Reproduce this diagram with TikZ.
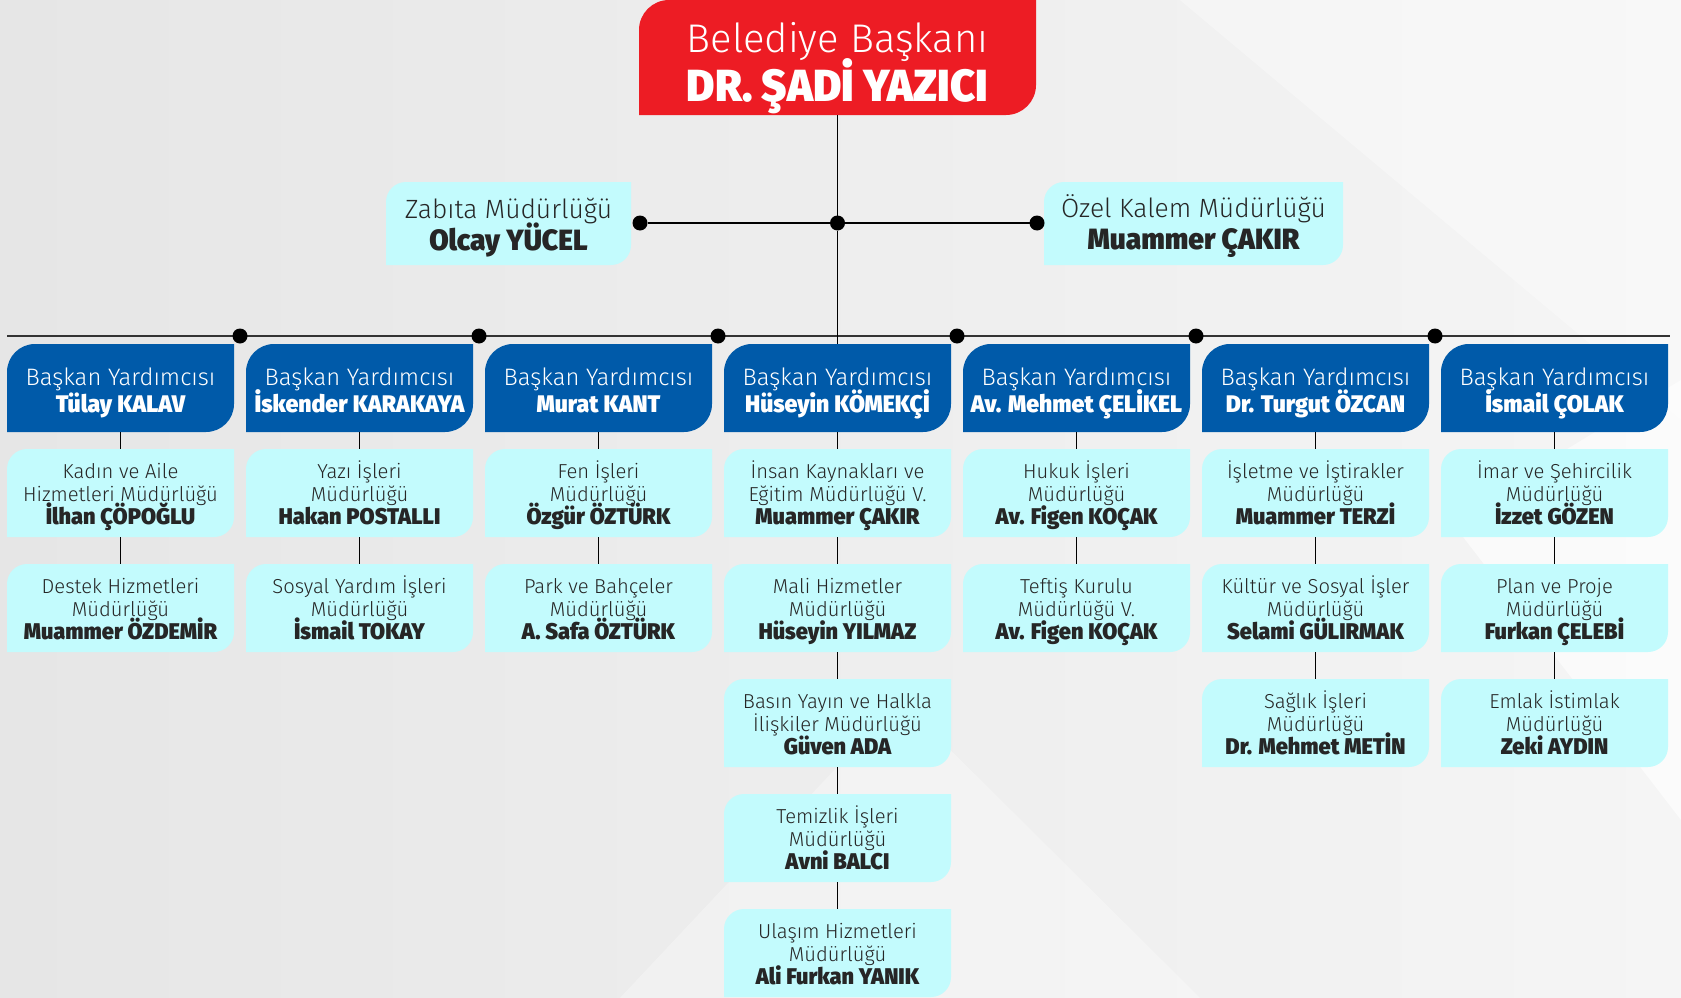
\documentclass[tikz,border=0pt]{standalone}
\usepackage{fontspec}
\usetikzlibrary{positioning,backgrounds,calc}
\setmainfont{Fira Sans}
\newfontfamily\lightfont{Fira Sans Light}
\IfFontExistsTF{Fira Sans Heavy}
  {\newfontfamily\heavyfont{Fira Sans Heavy}[FakeStretch=0.96]}
  {\IfFontExistsTF{Fira Sans Black}
    {\newfontfamily\heavyfont{Fira Sans Black}[FakeStretch=0.96]}
    {\IfFontExistsTF{Fira Sans Ultra}
      {\newfontfamily\heavyfont{Fira Sans Ultra}[FakeStretch=0.96]}
      {\newfontfamily\heavyfont{Fira Sans ExtraBold}[FakeStretch=0.96]}}}
\definecolor{mayorred}{HTML}{ED1C24}
\definecolor{vpblue}{HTML}{005AA9}
\definecolor{deptcyan}{HTML}{C3FBFD}
\definecolor{bggray}{HTML}{E6E6E6}
\definecolor{bglight}{HTML}{F5F5F5}
\pgfdeclarelayer{backdrop}
\pgfsetlayers{backdrop,background,main}
\lineskiplimit=-60pt\relax
% text of the boxes (struts fix the baselines)
\newcommand{\depttext}[2]{\rule{0pt}{22.5pt}#1\\{\heavyfont\fontsize{22.7}{23}\selectfont #2}\rule[-6.5pt]{0pt}{6.5pt}}
\newcommand{\vptext}[1]{\rule{0pt}{28pt}Başkan Yardımcısı\\{\heavyfont\fontsize{24}{27}\selectfont #1}\rule[-7pt]{0pt}{7pt}}
\newcommand{\sidetext}[2]{\rule{0pt}{29pt}#1\\{\heavyfont\fontsize{29.3}{32}\selectfont #2}\rule[-8pt]{0pt}{8pt}}
% box with rounded top-left and bottom-right corners
\newcommand{\cutcorners}[3]{%
  \fill[#2] ([yshift=-#3]#1.north west) arc[start angle=180, end angle=90, radius=#3]
    -- (#1.north east) -- ([yshift=#3]#1.south east)
    arc[start angle=0, end angle=-90, radius=#3] -- (#1.south west) -- cycle;}
\tikzset{
  every node/.style={outer sep=0pt, inner sep=0pt, align=center},
  mayorbox/.style={minimum width=397pt, minimum height=115pt, text=white,
    font=\lightfont\fontsize{40}{49}\selectfont},
  sidebox/.style={minimum height=83pt, text=black!85,
    font=\lightfont\fontsize{26.4}{32}\selectfont},
  vpbox/.style={minimum width=227pt, minimum height=88pt, text=white,
    font=\lightfont\fontsize{23.8}{27}\selectfont},
  deptbox/.style={minimum width=227pt, minimum height=88pt, text=black!85,
    font=\lightfont\fontsize{20.2}{23}\selectfont},
  link/.style={line width=1.3pt, black},
  busline/.style={line width=2pt, black!80},
  joint/.style={circle, fill=black, minimum size=15pt}
}
\begin{document}
\begin{tikzpicture}[x=1pt, y=1pt]
  \useasboundingbox (0,0) rectangle (1681,-998);
  % backdrop
  \begin{pgfonlayer}{backdrop}
    \shade[left color=bggray, right color=bglight] (0,0) rectangle (1681,-998);
    \fill[white, opacity=0.5] (330,0) -- (520,0) -- (860,560) -- (760,640) -- cycle;
    \fill[white, opacity=0.35] (1180,0) -- (1681,0) -- (1681,-420) -- cycle;
    \fill[white, opacity=0.6] (1681,-380) -- (1681,-820) -- (1450,-520) -- cycle;
    \fill[white, opacity=0.3] (620,-998) -- (900,-700) -- (1200,-998) -- cycle;
  \end{pgfonlayer}

  % mayor and direct offices
  \node[mayorbox] (mayor) at (837.5,-57.5)
    {\rule{0pt}{50.4pt}Belediye Başkanı\\{\heavyfont\fontsize{45}{49}\selectfont DR. ŞADİ YAZICI}\rule[-11pt]{0pt}{11pt}};
  \node[sidebox, minimum width=245pt] (zabita) at (508.5,-223.5)
    {\sidetext{Zabıta Müdürlüğü}{Olcay YÜCEL}};
  \node[sidebox, minimum width=299pt] (ozel) at (1193.5,-223.5)
    {\sidetext{Özel Kalem Müdürlüğü}{Muammer ÇAKIR}};

  % deputy mayors
  \node[vpbox] (vp1) at (120.5,-388) {\vptext{Tülay KALAV}};
  \node[vpbox] (vp2) at (359.5,-388) {\vptext{İskender KARAKAYA}};
  \node[vpbox] (vp3) at (598.5,-388) {\vptext{Murat KANT}};
  \node[vpbox] (vp4) at (837.5,-388) {\vptext{Hüseyin KÖMEKÇİ}};
  \node[vpbox] (vp5) at (1076.5,-388) {\vptext{Av. Mehmet ÇELİKEL}};
  \node[vpbox] (vp6) at (1315.5,-388) {\vptext{Dr. Turgut ÖZCAN}};
  \node[vpbox] (vp7) at (1554.5,-388) {\vptext{İsmail ÇOLAK}};

  % departments
  \node[deptbox, below=17pt of vp1] (d11) {\depttext{Kadın ve Aile\\Hizmetleri Müdürlüğü}{İlhan ÇÖPOĞLU}};
  \node[deptbox, below=27pt of d11] (d12) {\depttext{Destek Hizmetleri\\Müdürlüğü}{Muammer ÖZDEMİR}};

  \node[deptbox, below=17pt of vp2] (d21) {\depttext{Yazı İşleri\\Müdürlüğü}{Hakan POSTALLI}};
  \node[deptbox, below=27pt of d21] (d22) {\depttext{Sosyal Yardım İşleri\\Müdürlüğü}{İsmail TOKAY}};

  \node[deptbox, below=17pt of vp3] (d31) {\depttext{Fen İşleri\\Müdürlüğü}{Özgür ÖZTÜRK}};
  \node[deptbox, below=27pt of d31] (d32) {\depttext{Park ve Bahçeler\\Müdürlüğü}{A. Safa ÖZTÜRK}};

  \node[deptbox, below=17pt of vp4] (d41) {\depttext{İnsan Kaynakları ve\\Eğitim Müdürlüğü V.}{Muammer ÇAKIR}};
  \node[deptbox, below=27pt of d41] (d42) {\depttext{Mali Hizmetler\\Müdürlüğü}{Hüseyin YILMAZ}};
  \node[deptbox, below=27pt of d42] (d43) {\depttext{Basın Yayın ve Halkla\\İlişkiler Müdürlüğü}{Güven ADA}};
  \node[deptbox, below=27pt of d43] (d44) {\depttext{Temizlik İşleri\\Müdürlüğü}{Avni BALCI}};
  \node[deptbox, below=27pt of d44] (d45) {\depttext{Ulaşım Hizmetleri\\Müdürlüğü}{Ali Furkan YANIK}};

  \node[deptbox, below=17pt of vp5] (d51) {\depttext{Hukuk İşleri\\Müdürlüğü}{Av. Figen KOÇAK}};
  \node[deptbox, below=27pt of d51] (d52) {\depttext{Teftiş Kurulu\\Müdürlüğü V.}{Av. Figen KOÇAK}};

  \node[deptbox, below=17pt of vp6] (d61) {\depttext{İşletme ve İştirakler\\Müdürlüğü}{Muammer TERZİ}};
  \node[deptbox, below=27pt of d61] (d62) {\depttext{Kültür ve Sosyal İşler\\Müdürlüğü}{Selami GÜLIRMAK}};
  \node[deptbox, below=27pt of d62] (d63) {\depttext{Sağlık İşleri\\Müdürlüğü}{Dr. Mehmet METİN}};

  \node[deptbox, below=17pt of vp7] (d71) {\depttext{İmar ve Şehircilik\\Müdürlüğü}{İzzet GÖZEN}};
  \node[deptbox, below=27pt of d71] (d72) {\depttext{Plan ve Proje\\Müdürlüğü}{Furkan ÇELEBİ}};
  \node[deptbox, below=27pt of d72] (d73) {\depttext{Emlak İstimlak\\Müdürlüğü}{Zeki AYDIN}};

  % box fills
  \begin{pgfonlayer}{background}
    \cutcorners{mayor}{mayorred}{30pt}
    \cutcorners{zabita}{deptcyan}{20pt}
    \cutcorners{ozel}{deptcyan}{20pt}
    \foreach \n in {vp1,vp2,vp3,vp4,vp5,vp6,vp7}
      {\cutcorners{\n}{vpblue}{28pt}}
    \foreach \n in {d11,d12,d21,d22,d31,d32,d41,d42,d43,d44,d45,d51,d52,d61,d62,d63,d71,d72,d73}
      {\cutcorners{\n}{deptcyan}{20pt}}
  \end{pgfonlayer}

  % connectors
  \coordinate (busL) at (7,-336);
  \coordinate (busR) at (1670,-336);
  \draw[busline] (busL) -- (busR);
  \foreach \i/\x in {1/240,2/479,3/718,4/957,5/1196,6/1435}
    {\node[joint] (bj\i) at (\x,-336) {};}
  \node[joint] (hubL) at (640,-223) {};
  \node[joint] (hubC) at (837.5,-223) {};
  \node[joint] (hubR) at (1037,-223) {};
  \draw[link, line width=1.8pt] (hubL) -- (hubC) -- (hubR);
  \draw[link] (mayor) -- (hubC) -- (vp4);
  \draw[link] (vp1) -- (d11) -- (d12);
  \draw[link] (vp2) -- (d21) -- (d22);
  \draw[link] (vp3) -- (d31) -- (d32);
  \draw[link] (vp4) -- (d41) -- (d42) -- (d43) -- (d44) -- (d45);
  \draw[link] (vp5) -- (d51) -- (d52);
  \draw[link] (vp6) -- (d61) -- (d62) -- (d63);
  \draw[link] (vp7) -- (d71) -- (d72) -- (d73);
\end{tikzpicture}
\end{document}
